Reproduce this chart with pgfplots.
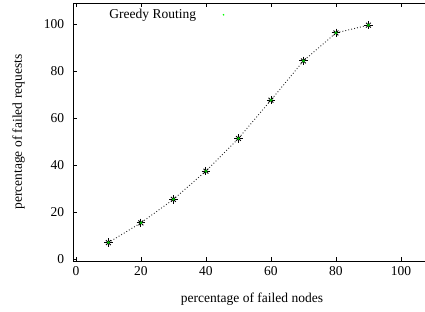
\documentclass[border=0pt]{standalone}
\usepackage{pgfplots}
\pgfplotsset{compat=1.18}
\usepackage{pgfplotstable}
\usepackage{fontspec}
\setmainfont{Liberation Serif}
\pgfplotstableread{
x y
10 7.2
20 15.6
30 25.6
40 37.6
50 51.5
60 67.8
70 84.5
80 96.4
90 99.7
}\greedy
\begin{document}
\fontsize{13.5bp}{16bp}\selectfont
\begin{tikzpicture}
\begin{axis}[name=ax,
  scale only axis, width=351.65bp, height=257.6bp,
  xmin=-0.8, xmax=107.4, ymin=-0.6, ymax=109,
  axis x line*=box, axis y line*=left,
  xtick={0,20,...,100}, ytick={0,20,...,100},
  xtick pos=both, ytick pos=left, tick align=inside,
  major tick length=4bp,
  axis line style={line width=0.8bp, black},
  every tick/.style={black, line width=0.8bp},
  tick label style={font=\fontsize{13.5bp}{16bp}\selectfont},
  /pgf/number format/assume math mode=true,
  yticklabel style={xshift=-4.5bp},
  xticklabel style={yshift=-1bp},
  xlabel={percentage of failed nodes},
  ylabel={percentage of failed requests},
  every axis x label/.style={at={(axis description cs:0.508,-0.16)}, anchor=base, font=\fontsize{13.5bp}{16bp}\selectfont},
  every axis y label/.style={at={(axis description cs:-0.1459,0.5)}, rotate=90, anchor=base, font=\fontsize{13.5bp}{16bp}\selectfont},
  legend style={at={(axis cs:10.25,104.1)}, anchor=west, draw=none, fill=none, inner sep=0pt,
    nodes={inner sep=0pt, font=\fontsize{13.5bp}{16bp}\selectfont},
    /tikz/every even column/.style={column sep=0pt}},
  legend plot pos=right,
  clip=false,
]
\addplot[forget plot, black!85, dash pattern=on 0.9bp off 2.1bp, line width=0.9bp] table {\greedy};
\addplot[forget plot, only marks, mark=+, mark size=4.2bp, black, mark options={line width=0.85bp}] table {\greedy};
\addplot[forget plot, only marks, mark=x, mark size=3.4bp, black, mark options={line width=0.85bp}] table {\greedy};
\addplot[forget plot, only marks, mark=*, mark size=1.2bp, green!75!black, mark options={draw=none}] table {\greedy};
\addlegendimage{legend image code/.code={\path[draw=none,fill=none] (0bp,0bp) -- (27.5bp,0bp); \fill[green,draw=none] (27.5bp,0bp) circle (0.9bp);}}
\addlegendentry{Greedy Routing}
\end{axis}
\pgfresetboundingbox
\path[use as bounding box] ([shift={(-73.3bp,-50.3bp)}]ax.south west) rectangle ([shift={(0bp,3.3bp)}]ax.north east);
\end{tikzpicture}
\end{document}
